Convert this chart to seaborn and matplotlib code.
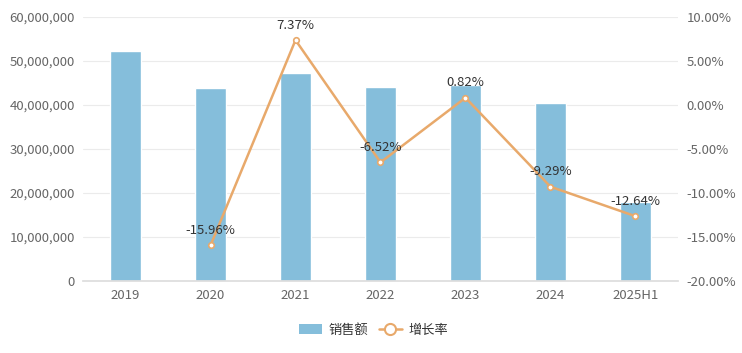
import matplotlib
matplotlib.use('Agg')
import matplotlib.pyplot as plt
import seaborn as sns
import pandas as pd
from matplotlib.ticker import FuncFormatter, FixedLocator
from matplotlib.patches import Patch
from matplotlib.lines import Line2D

# Dados
anos = ['2019', '2020', '2021', '2022', '2023', '2024', '2025H1']
vendas = [52300000, 43950000, 47200000, 44100000, 44480000, 40350000, 18000000]
crescimento = [None, -15.96, 7.37, -6.52, 0.82, -9.29, -12.64]

dados = pd.DataFrame({'ano': anos, 'vendas': vendas, 'crescimento': crescimento})

sns.set_theme(style='white')
plt.rcParams['font.family'] = ['Noto Sans CJK SC', 'DejaVu Sans']

cor_barra = '#85BEDB'
cor_linha = '#E8A96B'
cor_texto = '#666666'

fig = plt.figure(figsize=(7.42, 3.53), dpi=100)
ax = fig.add_axes([0.1119, 0.204, 0.8018, 0.748])

sns.barplot(data=dados, x='ano', y='vendas', color=cor_barra, width=0.373,
            saturation=1, ax=ax, zorder=2)
ax.set_ylim(0, 60000000)
ax.yaxis.set_major_locator(FixedLocator(range(0, 60000001, 10000000)))
ax.yaxis.set_major_formatter(FuncFormatter(lambda v, p: f'{int(v):,}'))
ax.grid(axis='y', color='#EBEBEB', linewidth=0.8, zorder=0)
ax.set_xlabel('')
ax.set_ylabel('')
ax.set_xlim(-0.5, len(anos) - 0.5)
for s in ['top', 'right', 'left']:
    ax.spines[s].set_visible(False)
ax.spines['bottom'].set_color('#DDDDDD')
ax.tick_params(axis='both', length=0, labelsize=9.5, colors=cor_texto, pad=6)

ax2 = ax.twinx()
linha = dados.dropna()
ax2.plot(list(linha.index), linha['crescimento'], color=cor_linha, linewidth=1.8,
         marker='o', markersize=4, markerfacecolor='white', markeredgecolor=cor_linha,
         markeredgewidth=1.2, zorder=3)
ax2.set_ylim(-20, 10)
ax2.yaxis.set_major_locator(FixedLocator(range(-20, 11, 5)))
ax2.yaxis.set_major_formatter(FuncFormatter(lambda v, p: f'{v:.2f}%'))
for s in ax2.spines.values():
    s.set_visible(False)
ax2.tick_params(axis='y', length=0, labelsize=9.5, colors=cor_texto, pad=6)
ax2.grid(False)

for i, v in zip(linha.index, linha['crescimento']):
    ax2.annotate(f'{v:.2f}%', (i, v), xytext=(0, 6), textcoords='offset points',
                 ha='center', va='bottom', fontsize=9.5, color='#333333')

handles = [Patch(facecolor=cor_barra, edgecolor='none'),
           Line2D([0], [0], color=cor_linha, linewidth=1.8, marker='o', markersize=8,
                  markerfacecolor='white', markeredgecolor=cor_linha, markeredgewidth=1.5)]
fig.legend(handles, ['销售额', '增长率'], loc='center', bbox_to_anchor=(0.503, 0.065),
           ncol=2, frameon=False, fontsize=9.5, handlelength=1.8, handleheight=0.9,
           columnspacing=0.8, handletextpad=0.45, labelcolor='#333333')

plt.savefig('out.png', dpi=100)
